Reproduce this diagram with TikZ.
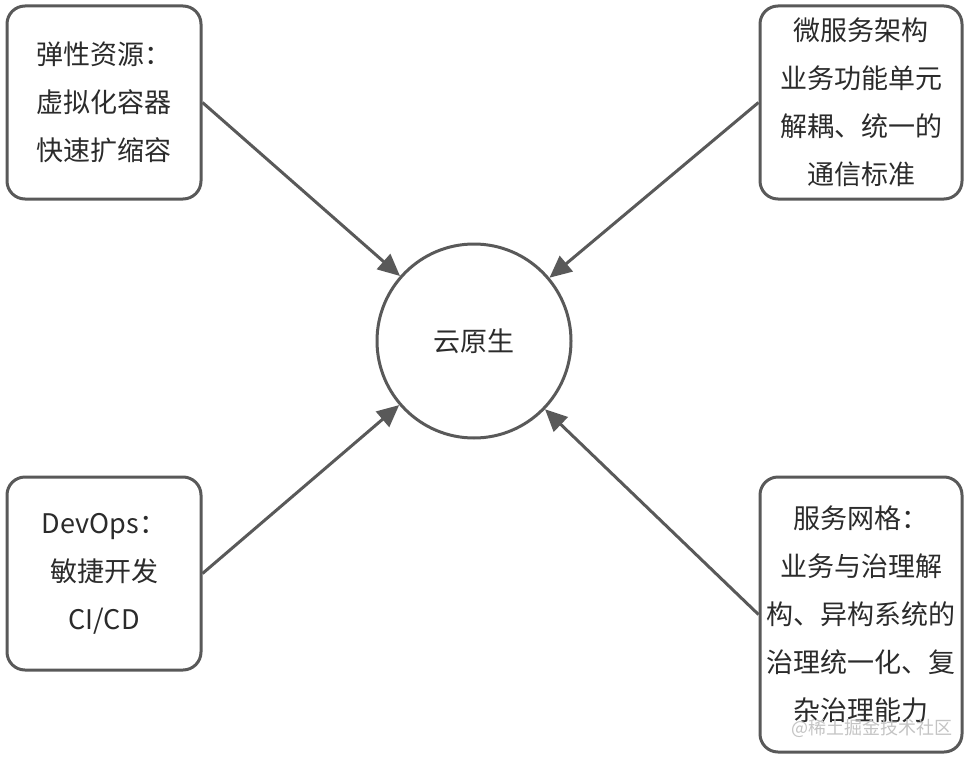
\documentclass[tikz,border=0pt]{standalone}
\usepackage{fontspec}
\newfontfamily\cjk{Noto Sans CJK SC}
\usetikzlibrary{arrows.meta,positioning}
\definecolor{edgegray}{HTML}{595959}
\definecolor{textgray}{HTML}{2B2B2B}
\definecolor{markgray}{HTML}{C4C4C4}
\tikzset{
  topic/.style={draw=edgegray,line width=3pt,rounded corners=18pt,fill=white,
    align=center,inner sep=0pt,text=textgray,font=\cjk\fontsize{27}{48}\selectfont},
  hub/.style={circle,draw=edgegray,line width=3pt,minimum size=194pt,inner sep=0pt,
    text=textgray,font=\cjk\fontsize{27}{32}\selectfont},
  feed/.style={draw=edgegray,line width=3pt,-{Triangle[length=22pt,width=20pt]}},
}

\begin{document}
\begin{tikzpicture}[x=1pt,y=-1pt]
  \useasboundingbox (0,0) rectangle (974,760);
  % centre
  \node[hub] (cloud) at (474,341) {云原生};
  % four topics
  \node[topic,minimum width=194pt,minimum height=193pt] (elastic) at (104,102.5)
    {弹性资源：\\虚拟化容器\\快速扩缩容};
  \node[topic,minimum width=202pt,minimum height=193pt] (micro) at (861,102.5)
    {微服务架构\\业务功能单元\\解耦、统一的\\通信标准};
  \node[topic,minimum width=194pt,minimum height=193pt] (devops) at (104,573.5)
    {DevOps：\\敏捷开发\\CI/CD};
  \node[topic,minimum width=202pt,minimum height=275pt] (mesh) at (861,614.5)
    {服务网格：\\业务与治理解\\构、异构系统的\\治理统一化、复\\杂治理能力};
  % arrows into the centre
  \draw[feed] (elastic.east) -- (cloud);
  \draw[feed] (micro.west) -- (cloud);
  \draw[feed] (devops.east) -- (cloud);
  \draw[feed] (mesh.west) -- (cloud);
  % watermark
  \node[font=\cjk\fontsize{18}{20}\selectfont,text=markgray] (mark) at (872,728)
    {@稀土掘金技术社区};
\end{tikzpicture}
\end{document}
